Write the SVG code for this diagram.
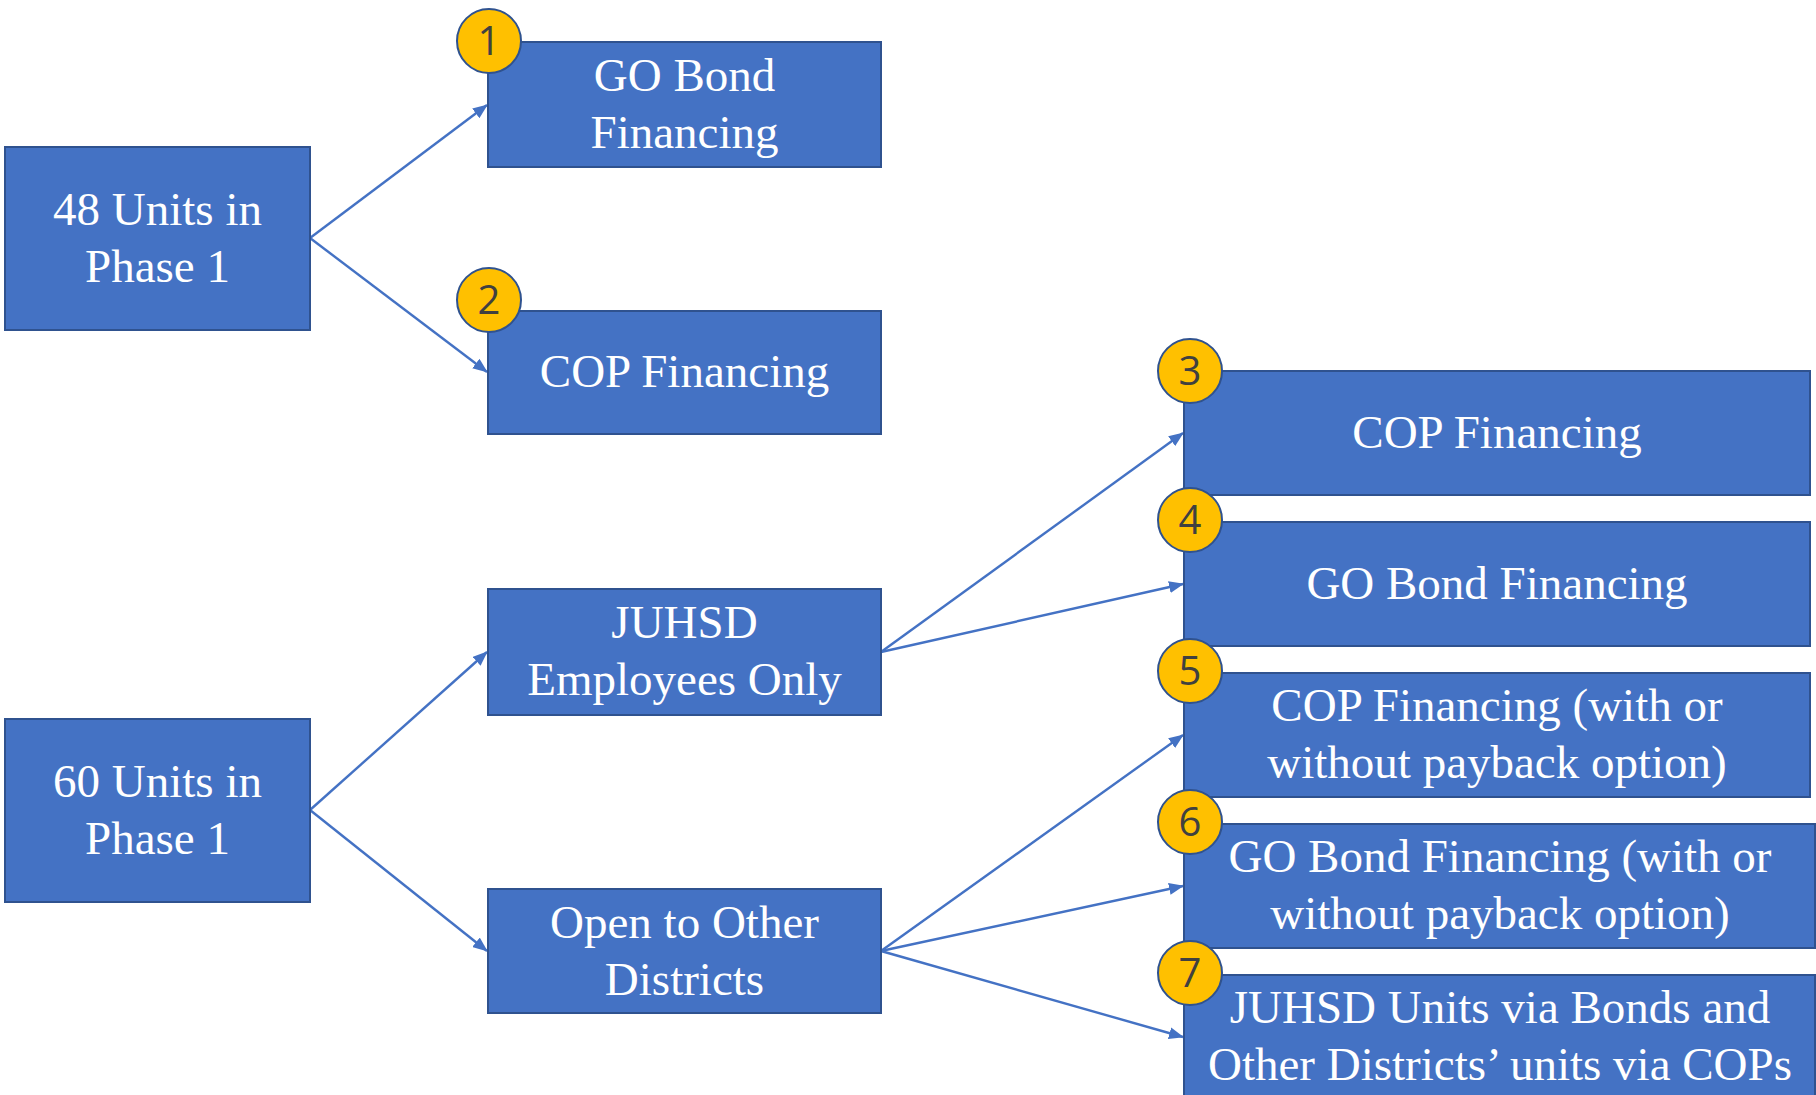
<svg xmlns="http://www.w3.org/2000/svg" width="1816" height="1095" viewBox="0 0 1816 1095">
  <style>
    .box { fill: #4472C4; stroke: #2F528F; stroke-width: 2; }
    .lbl { font-family: "Liberation Serif", "Times New Roman", serif; font-size: 47px; fill: #FFFFFF; text-anchor: middle; }
    .badge { fill: #FFC000; stroke: #2F528F; stroke-width: 2; }
    .num { font-family: "Open Sans", "Liberation Sans", sans-serif; font-size: 40px; fill: #404040; text-anchor: middle; }
    .link { stroke: #4472C4; stroke-width: 2.4; fill: none; marker-end: url(#arrow); }
  </style>
  <defs>
    <!-- filled triangular arrowhead shared by all connectors -->
    <marker id="arrow" markerUnits="userSpaceOnUse" markerWidth="15" markerHeight="12" refX="14" refY="6" orient="auto">
      <path d="M0,0 L15,6 L0,12 Z" fill="#4472C4"/>
    </marker>
  </defs>
  <rect width="1816" height="1095" fill="#FFFFFF"/>

  <!-- connectors -->
  <g id="connectors">
    <line class="link" x1="310" y1="238" x2="487" y2="105"/>
    <line class="link" x1="310" y1="238" x2="487" y2="372"/>
    <line class="link" x1="310" y1="810" x2="487" y2="652"/>
    <line class="link" x1="310" y1="810" x2="487" y2="951"/>
    <line class="link" x1="881" y1="652" x2="1183" y2="433"/>
    <line class="link" x1="881" y1="652" x2="1183" y2="584"/>
    <line class="link" x1="881" y1="951" x2="1183" y2="735"/>
    <line class="link" x1="881" y1="951" x2="1183" y2="886"/>
    <line class="link" x1="881" y1="951" x2="1183" y2="1037"/>
  </g>

  <!-- left column -->
  <g id="units48">
    <rect class="box" x="5" y="147" width="305" height="183"/>
    <text class="lbl" x="157.5" y="225">48 Units in</text>
    <text class="lbl" x="157.5" y="282">Phase 1</text>
  </g>
  <g id="units60">
    <rect class="box" x="5" y="719" width="305" height="183"/>
    <text class="lbl" x="157.5" y="797">60 Units in</text>
    <text class="lbl" x="157.5" y="854">Phase 1</text>
  </g>

  <!-- middle column -->
  <g id="opt1">
    <rect class="box" x="488" y="42" width="393" height="125"/>
    <text class="lbl" x="684.5" y="91">GO Bond</text>
    <text class="lbl" x="684.5" y="148">Financing</text>
    <circle class="badge" cx="489" cy="41" r="32"/>
    <text class="num" x="489" y="55">1</text>
  </g>
  <g id="opt2">
    <rect class="box" x="488" y="311" width="393" height="123"/>
    <text class="lbl" x="684.5" y="387">COP Financing</text>
    <circle class="badge" cx="489" cy="300" r="32"/>
    <text class="num" x="489" y="314">2</text>
  </g>
  <g id="juhsd">
    <rect class="box" x="488" y="589" width="393" height="126"/>
    <text class="lbl" x="684.5" y="638">JUHSD</text>
    <text class="lbl" x="684.5" y="695">Employees Only</text>
  </g>
  <g id="open">
    <rect class="box" x="488" y="889" width="393" height="124"/>
    <text class="lbl" x="684.5" y="938">Open to Other</text>
    <text class="lbl" x="684.5" y="995">Districts</text>
  </g>

  <!-- right column -->
  <g id="opt3">
    <rect class="box" x="1184" y="371" width="626" height="124"/>
    <text class="lbl" x="1497" y="448">COP Financing</text>
    <circle class="badge" cx="1190" cy="371" r="32"/>
    <text class="num" x="1190" y="385">3</text>
  </g>
  <g id="opt4">
    <rect class="box" x="1184" y="522" width="626" height="124"/>
    <text class="lbl" x="1497" y="599">GO Bond Financing</text>
    <circle class="badge" cx="1190" cy="520" r="32"/>
    <text class="num" x="1190" y="534">4</text>
  </g>
  <g id="opt5">
    <rect class="box" x="1184" y="673" width="626" height="124"/>
    <text class="lbl" x="1497" y="721">COP Financing (with or</text>
    <text class="lbl" x="1497" y="778">without payback option)</text>
    <circle class="badge" cx="1190" cy="671" r="32"/>
    <text class="num" x="1190" y="685">5</text>
  </g>
  <g id="opt6">
    <rect class="box" x="1184" y="824" width="631" height="124"/>
    <text class="lbl" x="1500" y="872">GO Bond Financing (with or</text>
    <text class="lbl" x="1500" y="929">without payback option)</text>
    <circle class="badge" cx="1190" cy="822" r="32"/>
    <text class="num" x="1190" y="836">6</text>
  </g>
  <g id="opt7">
    <rect class="box" x="1184" y="975" width="631" height="124"/>
    <text class="lbl" x="1500" y="1023">JUHSD Units via Bonds and</text>
    <text class="lbl" x="1500" y="1080">Other Districts’ units via COPs</text>
    <circle class="badge" cx="1190" cy="973" r="32"/>
    <text class="num" x="1190" y="987">7</text>
  </g>
</svg>
